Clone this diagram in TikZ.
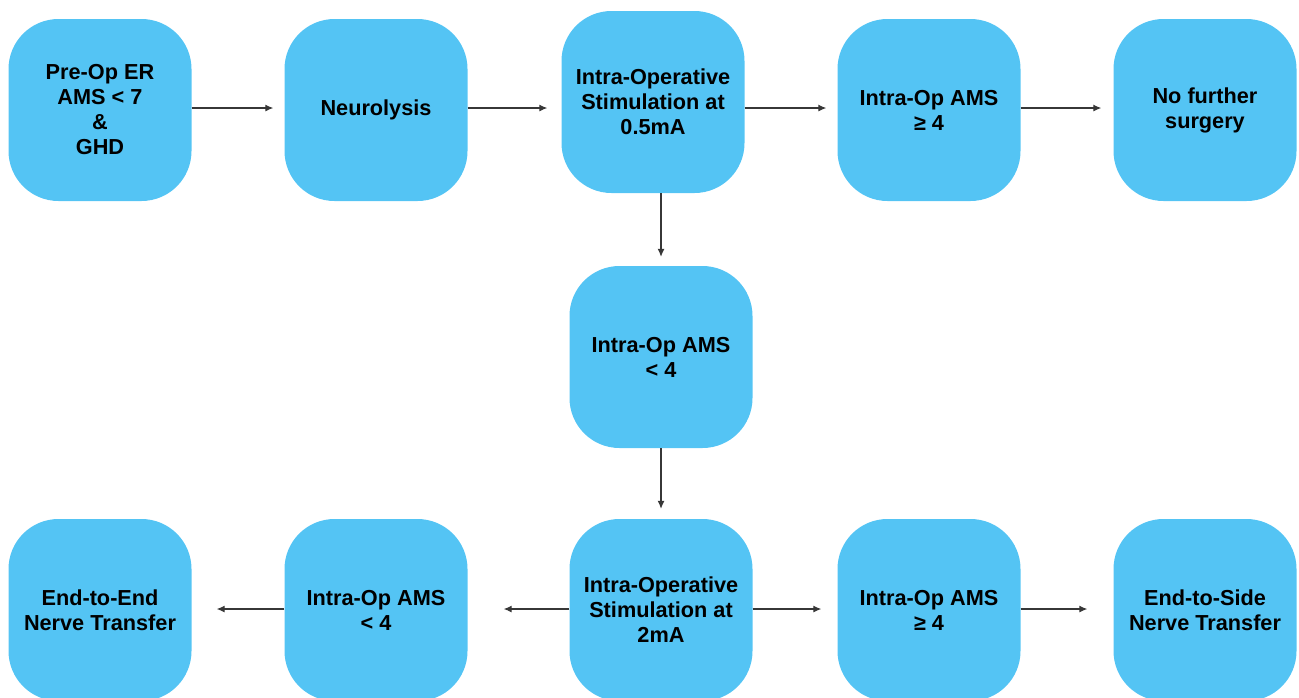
\documentclass[tikz,border=0pt]{standalone}
\usepackage{fontspec}
\setmainfont{Liberation Sans}
\usepackage{tikz}
\usetikzlibrary{calc,positioning,arrows.meta}
\definecolor{boxblue}{RGB}{84,196,244}
\definecolor{arrgray}{RGB}{55,55,55}

\begin{document}
\begin{tikzpicture}[x=1pt,y=-1pt,
     box/.style={fill=boxblue, rounded corners=50pt, minimum width=183pt, minimum height=182pt,
                 align=center, inner sep=0pt, font=\bfseries\fontsize{21.7}{25}\selectfont},
     arr/.style={draw=arrgray, line width=1.1pt, -{Latex[length=8pt,width=7pt]}}]
       \useasboundingbox (0,0) rectangle (1299,697);
       \clip (0,0) rectangle (1299,697);
       % top row
                 \node[box] (preop) at (100,110) {Pre-Op ER\\AMS < 7\\\&\\GHD};
                 \node[box] (neuro) at (376,110) {Neurolysis};
                 \node[box] (stimA) at (653,102) {Intra-Operative\\Stimulation at\\0.5mA};
                 \node[box] (amsGeA) at (929,110) {Intra-Op AMS\\≥ 4};
                 \node[box] (nofurther) at (1205,110) {No further\\surgery};
       % middle
                 \node[box] (amsLtA) at (661,357) {Intra-Op AMS\\< 4};
       % bottom row
                 \node[box] (stimB) at (661,610) {Intra-Operative\\Stimulation at\\2mA};
                 \node[box] (amsLtB) at (376,610) {Intra-Op AMS\\< 4};
                 \node[box] (endend) at (100,610) {End-to-End\\Nerve Transfer};
                 \node[box] (amsGeB) at (929,610) {Intra-Op AMS\\≥ 4};
                 \node[box] (endside) at (1205,610) {End-to-Side\\Nerve Transfer};
       % arrows
          \draw[arr, shorten >=11pt] ($(preop.east)+(0,-2)$) -- ($(preop.east -| neuro.west)+(0,-2)$);
          \draw[arr, shorten >=14pt] ($(neuro.east)+(0,-2)$) -- ($(neuro.east -| stimA.west)+(0,-2)$);
          \draw[arr, shorten >=11pt] ($(amsGeA.west -| stimA.east)+(0,-2)$) -- ($(amsGeA.west)+(0,-2)$);
          \draw[arr, shorten >=12pt] ($(amsGeA.east)+(0,-2)$) -- ($(nofurther.west)+(0,-2)$);
          \draw[arr, shorten >=9pt] (stimA.south -| amsLtA.north) -- (amsLtA.north);
          \draw[arr, shorten >=10pt] (amsLtA.south) -- (stimB.north);
          \draw[arr, shorten >=36pt] ($(stimB.west)+(0,-1)$) -- ($(amsLtB.east)+(0,-1)$);
          \draw[arr, shorten >=25pt] ($(amsLtB.west)+(0,-1)$) -- ($(endend.east)+(0,-1)$);
          \draw[arr, shorten >=16pt] ($(stimB.east)+(0,-1)$) -- ($(amsGeB.west)+(0,-1)$);
          \draw[arr, shorten >=26pt] ($(amsGeB.east)+(0,-1)$) -- ($(endside.west)+(0,-1)$);
%          \draw[arr] (stimA) -- (amsLtB);
     \end{tikzpicture}
\end{document}
